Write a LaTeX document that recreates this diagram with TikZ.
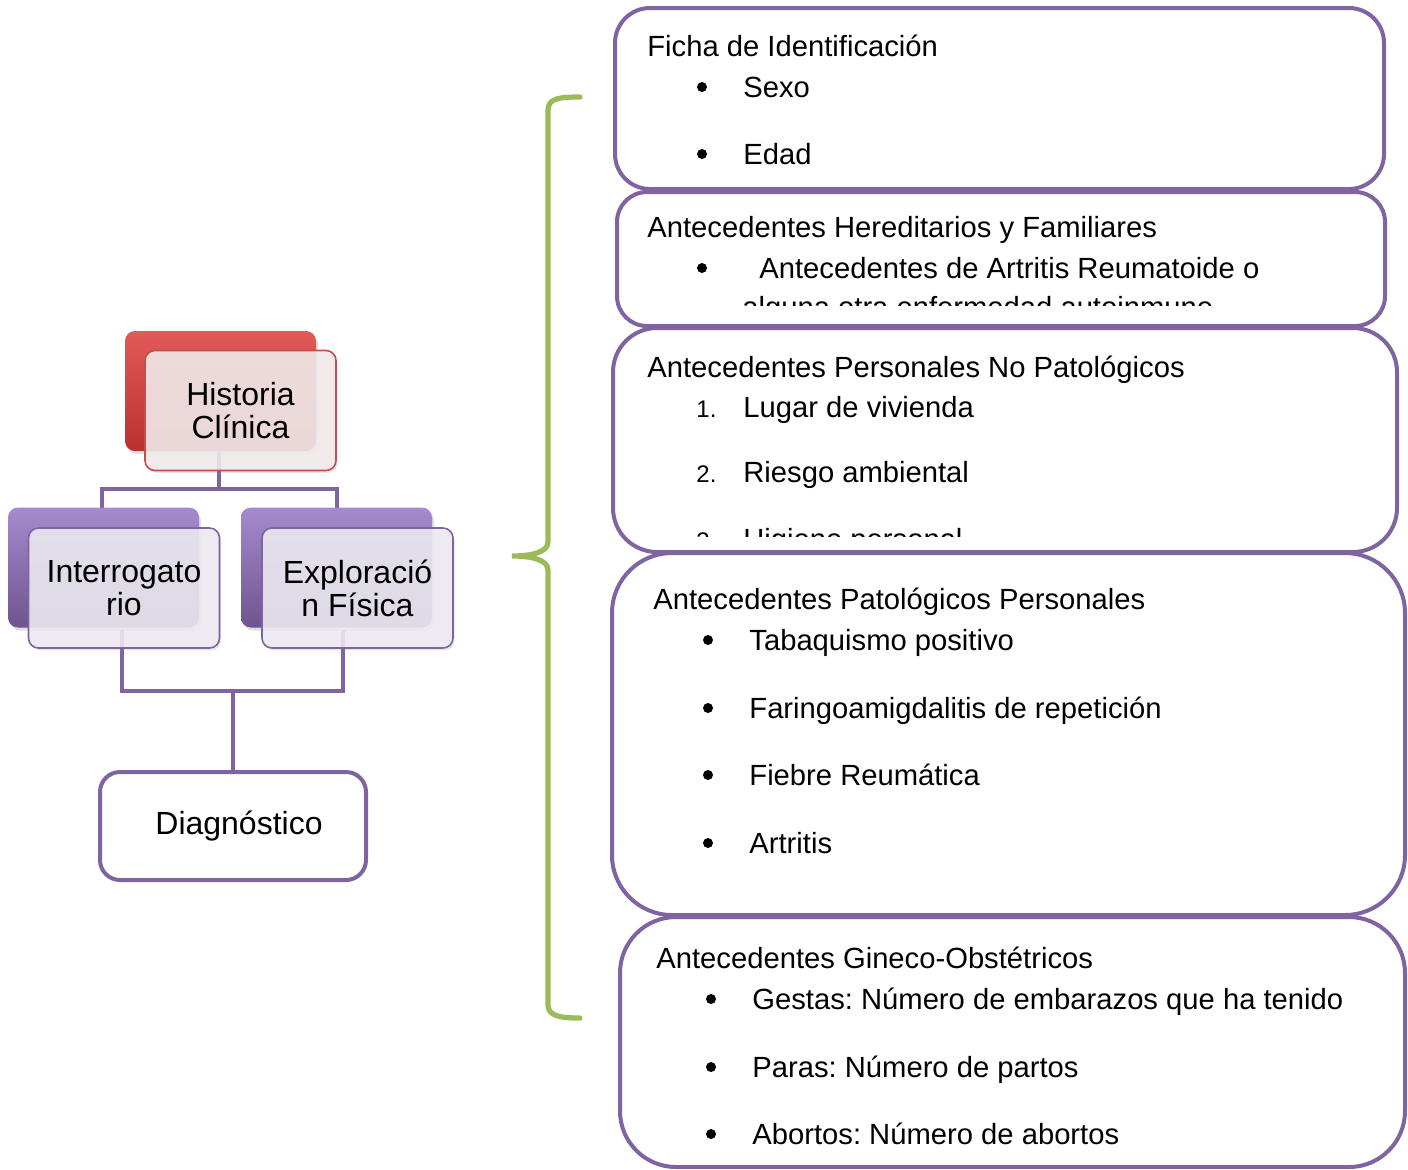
\documentclass[tikz,border=0pt]{standalone}
\usepackage{fontspec}
\setmainfont{Liberation Sans}
\usetikzlibrary{shadows}
\definecolor{vio}{HTML}{8064A2}
\definecolor{vioTop}{HTML}{A58ACF}
\definecolor{vioBot}{HTML}{70548F}
\definecolor{leaf}{HTML}{9BBB59}
\definecolor{brick}{HTML}{C0504D}
\definecolor{brickTop}{HTML}{E25A57}
\definecolor{brickBot}{HTML}{B8322F}
\definecolor{paleRed}{HTML}{F3ECEC}
\definecolor{paleVio}{HTML}{EEECF2}
\frenchspacing
\begin{document}
\begin{tikzpicture}[x=0.5pt,y=-0.5pt,
  frame/.style={draw=vio,line width=2pt,fill=white},
  txt/.style={anchor=base west,inner sep=0pt,font=\fontsize{14.6}{17}\selectfont},
  num/.style={anchor=base west,inner sep=0pt,font=\fontsize{12}{14}\selectfont},
  link/.style={draw=vio,line width=2pt},
  card/.style={rounded corners=5pt,minimum width=95.5pt,minimum height=60pt,inner sep=0pt},
  backred/.style={card,top color=brickTop,bottom color=brickBot,
    drop shadow={opacity=0.25,shadow xshift=1pt,shadow yshift=-1.5pt}},
  backvio/.style={card,top color=vioTop,bottom color=vioBot,
    drop shadow={opacity=0.25,shadow xshift=1pt,shadow yshift=-1.5pt}},
  frontred/.style={card,draw=brick,line width=0.8pt,fill=paleRed,fill opacity=0.88,text opacity=1,
    align=center,font=\fontsize{16}{16.5}\selectfont,
    drop shadow={opacity=0.2,shadow xshift=0.8pt,shadow yshift=-1.2pt}},
  frontvio/.style={card,draw=vio,line width=0.8pt,fill=paleVio,fill opacity=0.88,text opacity=1,
    align=center,font=\fontsize{16}{16.5}\selectfont,
    drop shadow={opacity=0.2,shadow xshift=0.8pt,shadow yshift=-1.2pt}},
]
\useasboundingbox (0,0) rectangle (1408,1169);
% list bullet: filled dot centred on the text line
\def\bul(#1,#2){\fill (#1,#2) circle (2.5pt);}

% ---------- hierarchy on the left ----------
% connectors first, so the translucent cards sit over them
\coordinate (topstem) at (219,440);
\coordinate (topbar) at (219,489);
\coordinate (barL) at (102,489);
\coordinate (barR) at (337,489);
\coordinate (dropL) at (102,508);
\coordinate (dropR) at (337,508);
\coordinate (upL) at (122,630);
\coordinate (upR) at (343,630);
\coordinate (lowL) at (122,691);
\coordinate (lowR) at (343,691);

\draw[link] (topstem) -- (topbar);
\draw[link] (dropL) -- (barL) -- (barR) -- (dropR);
\draw[link] (upL) -- (lowL) -- (lowR) -- (upR);

\node[backred] (hcback) at (220.5,391) {};
\node[frontred] (hc) at (240.5,410.5) {Historia\\Clínica};

\node[backvio] (inback) at (103.5,567.5) {};
\node[frontvio] (inter) at (124,588) {Interrogato\\rio};

\node[backvio] (exback) at (336.5,567.5) {};
\node[frontvio] (explo) at (357.5,588) {Exploració\\n Física};

\node[draw=vio,line width=2pt,fill=white,rounded corners=10pt,
  minimum width=133pt,minimum height=54pt,inner sep=0pt,
  font=\fontsize{16}{16.5}\selectfont] (diag) at (233,826) {\hspace*{6pt}Diagnóstico};
\coordinate (lowMid) at (233,691);
\draw[link] (lowMid) -- (diag.north);

% ---------- brace ----------
\draw[leaf,line width=2.6pt,line cap=round]
  (580,97) .. controls (560,97) and (548,98) .. (548,110) -- (548,542)
  .. controls (548,552) and (532,556) .. (512,556)
  .. controls (532,556) and (548,560) .. (548,570) -- (548,1005)
  .. controls (548,1016) and (560,1018) .. (580,1018);

% ---------- boxes on the right ----------
\node[frame,rounded corners=17.5pt,minimum width=384.5pt,minimum height=90.5pt] (b1) at (999.5,98.5) {};
\node[frame,rounded corners=15pt,minimum width=384pt,minimum height=67pt] (b2) at (1001,259) {};
\node[frame,rounded corners=22pt,minimum width=392pt,minimum height=112pt] (b3) at (1005,440) {};
\node[frame,rounded corners=30pt,minimum width=396.5pt,minimum height=181pt] (b4) at (1008.5,734) {};
\node[frame,rounded corners=28pt,minimum width=392.5pt,minimum height=125pt] (b5) at (1012.5,1042) {};

% box 1
\node[txt] at (647,56) {Ficha de Identificación};
\bul(702,87)
\node[txt] at (743,97) {Sexo};
\bul(702,154)
\node[txt] at (743,164) {Edad};

% box 2, text runs past the bottom edge and is cut
\begin{scope}
  \clip (620,195) rectangle (1380,305);
  \node[txt] at (647,237) {Antecedentes Hereditarios y Familiares};
  \bul(702,268)
  \node[txt] at (759,278) {Antecedentes de Artritis Reumatoide o};
  \node[txt] at (742,317) {alguna otra enfermedad autoinmune};
\end{scope}

% box 3, third item cut at the bottom
\begin{scope}
  \clip (620,332) rectangle (1390,536);
  \node[txt] at (647,377) {Antecedentes Personales No Patológicos};
  \node[num] at (696,417) {1.};
  \node[txt] at (743,417) {Lugar de vivienda};
  \node[num] at (696,482) {2.};
  \node[txt] at (743,482) {Riesgo ambiental};
  \node[num] at (696,549) {3.};
  \node[txt] at (743,549) {Higiene personal};
\end{scope}

% box 4
\node[txt] at (653,609) {Antecedentes Patológicos Personales};
\bul(708,640)
\node[txt] at (749,650) {Tabaquismo positivo};
\bul(708,708)
\node[txt] at (749,718) {Faringoamigdalitis de repetición};
\bul(708,775)
\node[txt] at (749,785) {Fiebre Reumática};
\bul(708,843)
\node[txt] at (749,853) {Artritis};

% box 5
\node[txt] at (656,968) {Antecedentes Gineco-Obstétricos};
\bul(711,999)
\node[txt] at (752,1009) {Gestas: Número de embarazos que ha tenido};
\bul(711,1067)
\node[txt] at (752,1077) {Paras: Número de partos};
\bul(711,1134)
\node[txt] at (752,1144) {Abortos: Número de abortos};
\end{tikzpicture}
\end{document}
